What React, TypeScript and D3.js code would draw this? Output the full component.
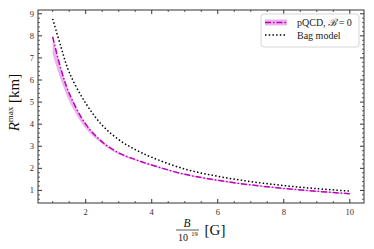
import React from 'react';
import * as d3 from 'd3';

// --- data ---
const bValues = [1, 1.25, 1.5, 2, 2.5, 3, 3.5, 4, 5, 6, 7, 8, 9, 10];
const bagModel = [8.77, 7.5, 6.35, 4.95, 3.95, 3.3, 2.85, 2.5, 1.97, 1.64, 1.4, 1.22, 1.08, 0.97];
const pqcdCentral = [7.95, 6.5, 5.4, 4.0, 3.2, 2.7, 2.4, 2.15, 1.73, 1.46, 1.25, 1.09, 0.96, 0.85];
const pqcdLow = [7.15, 6.0, 5.05, 3.8, 3.1, 2.63, 2.35, 2.11, 1.7, 1.43, 1.22, 1.06, 0.93, 0.82];
const pqcdHigh = [8.02, 6.55, 5.45, 4.05, 3.22, 2.72, 2.42, 2.17, 1.75, 1.48, 1.27, 1.11, 0.98, 0.87];
const xTicks = [2, 4, 6, 8, 10];
const yTicks = [1, 2, 3, 4, 5, 6, 7, 8, 9];

const W = 374, H = 249;
const M = { left: 38, right: 364, top: 10, bottom: 203 };
const FONT = "'Liberation Serif', 'DejaVu Serif', serif";
const MAGENTA = '#bf00bf';
const AXIS = '#333';

const App: React.FC = () => {
    const x = d3.scaleLinear().domain([0.555, 10.43]).range([M.left, M.right]);
    const y = d3.scaleLinear().domain([0.43, 9.17]).range([M.bottom, M.top]);

    const line = d3.line<number>()
        .x((_, i) => x(bValues[i]))
        .y(d => y(d))
        .curve(d3.curveCatmullRom);

    const band = d3.area<number>()
        .x((_, i) => x(bValues[i]))
        .y0((_, i) => y(pqcdLow[i]))
        .y1((_, i) => y(pqcdHigh[i]))
        .curve(d3.curveCatmullRom);

    // minor ticks
    const xMinor = d3.range(1, 10.01, 0.5).filter(v => !xTicks.includes(v));
    const yMinor = d3.range(0.6, 9.11, 0.2).map(v => Math.round(v * 10) / 10).filter(v => !yTicks.includes(v));

    const major = 4, minor = 2;

    return (
        <svg width={W} height={H} style={{ position: 'fixed', left: 0, top: 0, background: '#fff', fontFamily: FONT }}>
            <defs>
                <clipPath id="plot-clip">
                    <rect x={M.left} y={M.top} width={M.right - M.left} height={M.bottom - M.top} />
                </clipPath>
            </defs>

            <g clipPath="url(#plot-clip)">
                <path d={band(pqcdLow) || ''} fill={MAGENTA} fillOpacity={0.3} stroke="none" />
                <path d={line(pqcdCentral) || ''} fill="none" stroke={MAGENTA} strokeWidth={1.5}
                      strokeDasharray="6,2,1.5,2" />
                <path d={line(bagModel) || ''} fill="none" stroke="#000" strokeWidth={1.5}
                      strokeDasharray="1.5,2.2" />
            </g>

            {/* frame */}
            <rect x={M.left} y={M.top} width={M.right - M.left} height={M.bottom - M.top}
                  fill="none" stroke={AXIS} strokeWidth={1} />

            {/* x ticks, bottom and top, pointing inward */}
            {xTicks.map(t => (
                <g key={'xt' + t}>
                    <line x1={x(t)} x2={x(t)} y1={M.bottom} y2={M.bottom - major} stroke={AXIS} />
                    <line x1={x(t)} x2={x(t)} y1={M.top} y2={M.top + major} stroke={AXIS} />
                    <text x={x(t)} y={M.bottom + 12} textAnchor="middle" fontSize={8.5} fill="#333">{t}</text>
                </g>
            ))}
            {xMinor.map(t => (
                <g key={'xm' + t}>
                    <line x1={x(t)} x2={x(t)} y1={M.bottom} y2={M.bottom - minor} stroke={AXIS} strokeWidth={0.8} />
                    <line x1={x(t)} x2={x(t)} y1={M.top} y2={M.top + minor} stroke={AXIS} strokeWidth={0.8} />
                </g>
            ))}

            {/* y ticks, left and right */}
            {yTicks.map(t => (
                <g key={'yt' + t}>
                    <line x1={M.left} x2={M.left + major} y1={y(t)} y2={y(t)} stroke={AXIS} />
                    <line x1={M.right} x2={M.right - major} y1={y(t)} y2={y(t)} stroke={AXIS} />
                    <text x={M.left - 4} y={y(t) + 3} textAnchor="end" fontSize={8.5} fill="#333">{t}</text>
                </g>
            ))}
            {yMinor.map(t => (
                <g key={'ym' + t}>
                    <line x1={M.left} x2={M.left + minor} y1={y(t)} y2={y(t)} stroke={AXIS} strokeWidth={0.8} />
                    <line x1={M.right} x2={M.right - minor} y1={y(t)} y2={y(t)} stroke={AXIS} strokeWidth={0.8} />
                </g>
            ))}

            {/* y label */}
            <text transform={`translate(19,${(M.top + M.bottom) / 2 - 4}) rotate(-90)`} textAnchor="middle"
                  fontSize={15} fill="#111">
                <tspan fontStyle="italic">R</tspan>
                <tspan fontSize={9} dy={-6}>max</tspan>
                <tspan dy={6}> [km]</tspan>
            </text>

            {/* x label: B / 10^19 [G] */}
            <g fill="#111">
                <text x={187} y={227} textAnchor="middle" fontSize={11.5} fontStyle="italic">B</text>
                <line x1={176} x2={199} y1={230} y2={230} stroke="#111" strokeWidth={0.7} />
                <text x={183} y={241} textAnchor="middle" fontSize={10}>10</text>
                <text x={194.5} y={236} textAnchor="middle" fontSize={6.5}>19</text>
                <text x={215} y={235} textAnchor="middle" fontSize={15}>[G]</text>
            </g>

            {/* legend */}
            <g>
                <rect x={261} y={14} width={98} height={33} rx={3} fill="#fff" fillOpacity={0.85}
                      stroke="#ccc" strokeWidth={0.8} />
                <rect x={265} y={19.5} width={22} height={6} fill={MAGENTA} fillOpacity={0.3} />
                <line x1={265} x2={287} y1={22.5} y2={22.5} stroke={MAGENTA} strokeWidth={1.5}
                      strokeDasharray="6,2,1.5,2" />
                <text x={297} y={26} fontSize={10} fill="#222">
                    pQCD, <tspan fontStyle="italic">ℬ</tspan> = 0
                </text>
                <line x1={265} x2={287} y1={35} y2={35} stroke="#000" strokeWidth={1.5}
                      strokeDasharray="1.5,2.2" />
                <text x={297} y={38.5} fontSize={10} fill="#222">Bag model</text>
            </g>
        </svg>
    );
};

export default App;
